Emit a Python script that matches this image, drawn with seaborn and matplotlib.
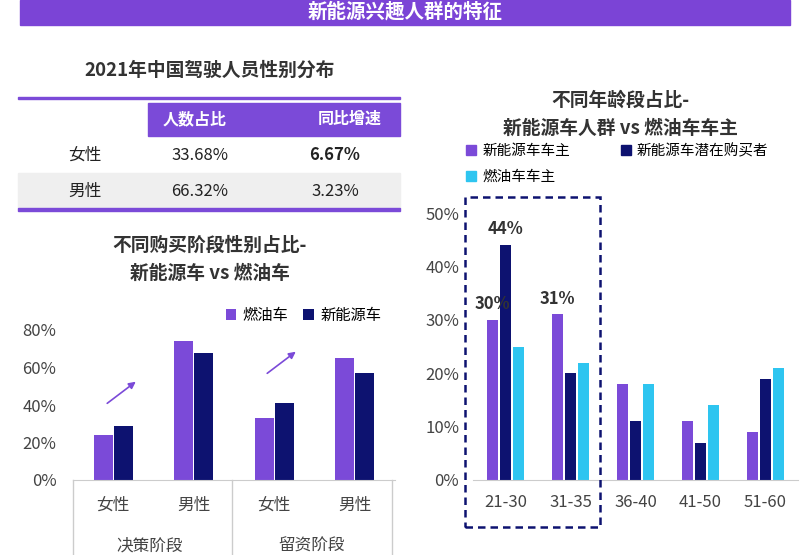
import matplotlib
matplotlib.use("Agg")
import matplotlib.pyplot as plt
import seaborn as sns
import pandas as pd
from matplotlib.patches import Rectangle, FancyArrowPatch, Patch

plt.rcParams["font.family"] = ["Noto Sans CJK JP", "Noto Sans CJK SC", "Noto Sans CJK TC", "DejaVu Sans"]

P, N, C = "#7B4AD8", "#0D1270", "#2EC5F0"
W, H = 809, 555

# data
left_cats = ["决策-女性", "决策-男性", "留资-女性", "留资-男性"]
left_ticks = ["女性", "男性", "女性", "男性"]
fuel_share = [24, 74, 33, 65]
nev_share = [29, 68, 41, 57]

ages = ["21-30", "31-35", "36-40", "41-50", "51-60"]
nev_owner = [30, 31, 18, 11, 9]
nev_potential = [44, 20, 11, 7, 19]
fuel_owner = [25, 22, 18, 14, 21]

table_rows = ["女性", "男性"]
table_share = ["33.68%", "66.32%"]
table_growth = ["6.67%", "3.23%"]

fig = plt.figure(figsize=(W/100, H/100), dpi=100)
def fx(x): return x / W
def fy(y): return 1 - y / H

# header
fig.add_artist(Rectangle((fx(20), fy(25)), fx(770), 25/H, color="#7B44D6", transform=fig.transFigure))
fig.text(fx(405), fy(12), "新能源兴趣人群的特征", color="white", fontsize=14, fontweight="bold", ha="center", va="center")

# table
fig.text(fx(210), fy(70), "2021年中国驾驶人员性别分布", fontsize=13.5, fontweight="bold", ha="center", va="center", color="#333")
fig.add_artist(Rectangle((fx(18), fy(99)), fx(382), 2/H, color=P, transform=fig.transFigure))
fig.add_artist(Rectangle((fx(148), fy(136)), fx(252), 33/H, color=P, transform=fig.transFigure))
fig.text(fx(195), fy(119), "人数占比", color="white", fontsize=11.5, fontweight="bold", ha="center", va="center")
fig.text(fx(350), fy(119), "同比增速", color="white", fontsize=11.5, fontweight="bold", ha="center", va="center")
fig.add_artist(Rectangle((fx(18), fy(208)), fx(382), 35/H, color="#EFEFEF", transform=fig.transFigure))
fig.add_artist(Rectangle((fx(18), fy(211)), fx(382), 3/H, color=P, transform=fig.transFigure))
for i, (r, s, g) in enumerate(zip(table_rows, table_share, table_growth)):
    y = 155 + i * 36
    fig.text(fx(85), fy(y), r, fontsize=12, ha="center", va="center", color="#222")
    fig.text(fx(200), fy(y), s, fontsize=12, ha="center", va="center", color="#222")
    fig.text(fx(335), fy(y), g, fontsize=12, ha="center", va="center", color="#222",
             fontweight="bold" if i == 0 else "normal")

# left chart
fig.text(fx(210), fy(245), "不同购买阶段性别占比-", fontsize=13.5, fontweight="bold", ha="center", va="center", color="#333")
fig.text(fx(210), fy(273), "新能源车 vs 燃油车", fontsize=13.5, fontweight="bold", ha="center", va="center", color="#333")
axL = fig.add_axes([fx(73), fy(480), fx(322), (480 - 330) / H])
dfL = pd.DataFrame({"cat": left_cats * 2, "val": fuel_share + nev_share,
                    "s": ["燃油车"] * 4 + ["新能源车"] * 4})
sns.barplot(data=dfL, x="cat", y="val", hue="s", palette=[P, N], ax=axL, width=0.5, gap=0.05, saturation=1)
axL.set_ylim(0, 80)
axL.set_yticks([0, 20, 40, 60, 80])
axL.set_yticklabels([f"{v}%" for v in [0, 20, 40, 60, 80]], fontsize=12, color="#444")
axL.set_xticks(range(4))
axL.set_xticklabels(left_ticks, fontsize=12, color="#444")
axL.tick_params(length=0, pad=12)
axL.set_xlabel(""); axL.set_ylabel("")
for s in ["top", "right", "left"]:
    axL.spines[s].set_visible(False)
axL.spines["bottom"].set_color("#ccc")
axL.legend(loc="lower right", bbox_to_anchor=(1.0, 0.95), ncol=2, frameon=False, fontsize=11,
           handlelength=0.7, handleheight=0.7, columnspacing=1.0, handletextpad=0.4)
for x in [73, 232, 392]:
    fig.add_artist(plt.Line2D([fx(x), fx(x)], [fy(480), fy(555)], color="#ccc", lw=1))
fig.text(fx(150), fy(546), "决策阶段", fontsize=12, ha="center", va="center", color="#444")
fig.text(fx(312), fy(546), "留资阶段", fontsize=12, ha="center", va="center", color="#444")
for (x0, y0, x1, y1) in [(105, 405, 138, 380), (265, 375, 298, 350)]:
    fig.add_artist(FancyArrowPatch((fx(x0), fy(y0)), (fx(x1), fy(y1)), transform=fig.transFigure,
                                   arrowstyle="-|>", mutation_scale=10, color=P, lw=1.2))

# right chart
fig.text(fx(620), fy(100), "不同年龄段占比-", fontsize=13.5, fontweight="bold", ha="center", va="center", color="#333")
fig.text(fx(620), fy(128), "新能源车人群 vs 燃油车车主", fontsize=13.5, fontweight="bold", ha="center", va="center", color="#333")
axR = fig.add_axes([fx(473), fy(480), fx(325), (480 - 213) / H])
dfR = pd.DataFrame({"age": ages * 3, "val": nev_owner + nev_potential + fuel_owner,
                    "s": ["新能源车车主"] * 5 + ["新能源车潜在购买者"] * 5 + ["燃油车车主"] * 5})
sns.barplot(data=dfR, x="age", y="val", hue="s", palette=[P, N, C], ax=axR, width=0.6, gap=0.1,
            legend=False, saturation=1)
axR.set_ylim(0, 50)
axR.set_yticks(range(0, 51, 10))
axR.set_yticklabels([f"{v}%" for v in range(0, 51, 10)], fontsize=12, color="#444")
axR.tick_params(length=0, pad=10)
axR.set_xticks(range(5))
axR.set_xticklabels(ages, fontsize=12, color="#444")
axR.set_xlabel(""); axR.set_ylabel("")
for s in ["top", "right", "left"]:
    axR.spines[s].set_visible(False)
axR.spines["bottom"].set_color("#ccc")
axR.text(-0.2, nev_owner[0] + 2, f"{nev_owner[0]}%", ha="center", fontsize=12, fontweight="bold", color="#333")
axR.text(0.0, nev_potential[0] + 2, f"{nev_potential[0]}%", ha="center", fontsize=12, fontweight="bold", color="#333")
axR.text(0.8, nev_owner[1] + 2, f"{nev_owner[1]}%", ha="center", fontsize=12, fontweight="bold", color="#333")
fig.add_artist(Rectangle((fx(465), fy(527)), fx(135), 330 / H, fill=False, ec=N, lw=1.8,
                         ls=(0, (3, 2)), transform=fig.transFigure))
h = [Patch(color=P), Patch(color=N), Patch(color=C)]
fig.legend(h[:2], ["新能源车车主", "新能源车潜在购买者"], loc="center left", bbox_to_anchor=(fx(453), fy(151)),
           ncol=2, frameon=False, fontsize=10.5, handlelength=0.7, handleheight=0.7, columnspacing=3.5, handletextpad=0.4)
fig.legend(h[2:], ["燃油车车主"], loc="center left", bbox_to_anchor=(fx(453), fy(177)),
           frameon=False, fontsize=10.5, handlelength=0.7, handleheight=0.7, handletextpad=0.4)

fig.savefig("out.png", dpi=100)
